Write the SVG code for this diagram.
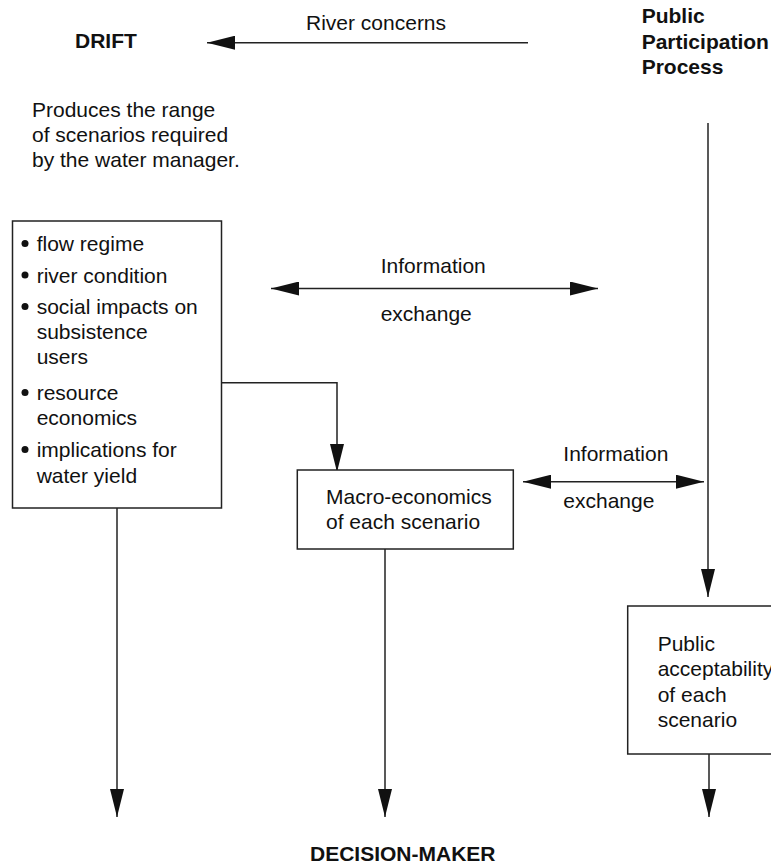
<svg xmlns="http://www.w3.org/2000/svg" width="771" height="864" viewBox="0 0 771 864">
<defs>
<marker id="ah" markerUnits="userSpaceOnUse" markerWidth="28" markerHeight="14" refX="28" refY="7" orient="auto-start-reverse" viewBox="0 0 28 14">
<path d="M0,0 L28,7 L0,14 z" fill="#111"/>
</marker>
<style>
text{font-family:"Liberation Sans",Arial,Helvetica,sans-serif;font-size:21px;fill:#111}
.b{font-weight:bold}
.box{fill:#fff;stroke:#222;stroke-width:1.5}
.c{fill:none;stroke:#222;stroke-width:1.5}
.a{marker-end:url(#ah)}
.aa{marker-start:url(#ah);marker-end:url(#ah)}
</style>
</defs>
<rect width="771" height="864" fill="#fff"/>
<g id="connectors">
<line class="c a" x1="528" y1="42.7" x2="207" y2="42.7"/>
<line class="c aa" x1="271" y1="288.5" x2="598" y2="288.5"/>
<line class="c aa" x1="523" y1="481.7" x2="704" y2="481.7"/>
<line class="c a" x1="708" y1="123" x2="708" y2="597"/>
<path class="c a" d="M220,382.7 H337 V472"/>
<line class="c a" x1="117" y1="508" x2="117" y2="817"/>
<line class="c a" x1="385" y1="549" x2="385" y2="817"/>
<line class="c a" x1="709" y1="754" x2="709" y2="817"/>
</g>
<g id="drift"><text class="b" x="75" y="48">DRIFT</text></g>
<g id="river-label"><text x="306" y="30">River concerns</text></g>
<g id="ppp"><text class="b" x="641.7" y="23">Public</text><text class="b" x="641.7" y="48.5">Participation</text><text class="b" x="641.7" y="74">Process</text></g>
<g id="produces"><text x="32" y="116.7">Produces the range</text><text x="32" y="141.7">of scenarios required</text><text x="32" y="166.7">by the water manager.</text></g>
<g id="drift-box">
<rect class="box" x="12.5" y="221" width="209" height="287"/>
<g fill="#111"><circle cx="25" cy="243.5" r="3.5"/><circle cx="25" cy="275" r="3.5"/><circle cx="25" cy="306.5" r="3.5"/><circle cx="25" cy="392.5" r="3.5"/><circle cx="25" cy="449.5" r="3.5"/></g>
<text x="36.7" y="251">flow regime</text>
<text x="36.7" y="282.5">river condition</text>
<text x="36.7" y="314">social impacts on</text>
<text x="36.7" y="339">subsistence</text>
<text x="36.7" y="364">users</text>
<text x="36.7" y="400">resource</text>
<text x="36.7" y="425">economics</text>
<text x="36.7" y="457">implications for</text>
<text x="36.7" y="483">water yield</text>
</g>
<g id="info-upper"><text x="380.7" y="273.3">Information</text><text x="380.7" y="321">exchange</text></g>
<g id="info-lower"><text x="563.3" y="460.7">Information</text><text x="563.3" y="508">exchange</text></g>
<g id="macro"><rect class="box" x="297.3" y="470" width="216" height="79"/><text x="326" y="504">Macro-economics</text><text x="326" y="529">of each scenario</text></g>
<g id="public-acc"><rect class="box" x="627.7" y="606" width="170" height="148"/><text x="657.7" y="650.7">Public</text><text x="657.7" y="676">acceptability</text><text x="657.7" y="701.7">of each</text><text x="657.7" y="726.7">scenario</text></g>
<g id="decision-maker"><text class="b" x="310" y="861" font-size="20">DECISION-MAKER</text></g>
</svg>
